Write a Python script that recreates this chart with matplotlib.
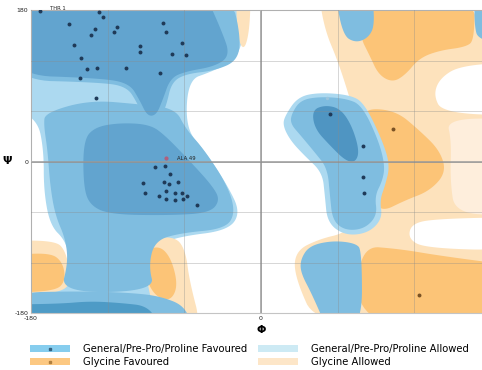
import numpy as np
import matplotlib
matplotlib.use("Agg")
import matplotlib.pyplot as plt
from matplotlib.patches import Polygon, Patch
from matplotlib.lines import Line2D

# ---------------------------------------------------------------- residues
phi_general = [-173, -127, -124, -150, -77, -113, -130, -74, -115, -133, -62,
               -146, -95, -95, -70, -59, -141, -136, -128, -106, -79, -142, -129,
               -83, -75, -71, -92, -76, -72, -74, -91, -67, -62, -65, -58, -74,
               -67, -61, -50, -80,
               54, 80, 80, 81]
psi_general = [179, 178, 172, 163, 164, 160, 157, 154, 154, 150, 141,
               138, 137, 130, 128, 126, 123, 110, 111, 111, 105, 99, 76,
               -7, -5, -15, -25, -24, -27, -35, -37, -37, -37, -24, -41, -45,
               -46, -44, -52, -41,
               57, 18, -19, -37]

phi_glycine = [103, 124]
psi_glycine = [39, -159]

phi_faint = [52]
psi_faint = [75]

phi_outlier = [-74]
psi_outlier = [4]
outlier_names = ["ALA 49"]

top_name = "THR 1"

# --------------------------------------------------------- region outlines
# (phi, psi) in degrees; edge vertices sit outside the frame so clipping
# gives straight borders after smoothing
gen_allowed = [(-200, 200), (-16, 200), (-13, 150), (-20, 120), (-40, 106),
               (-57, 97), (-59, 39), (-44, 13), (-26, -29), (-16, -61),
               (-26, -82), (-63, -89), (-81, -99), (-85, -130), (-75, -160),
               (-54, -200), (-200, -200), (-200, -156), (-153, -151),
               (-149, -120), (-153, -94), (-165, -76), (-170, -35), (-170, 13),
               (-175, 51), (-200, 67)]
gen_mid = [(-169, 58), (-134, 73), (-95, 68), (-67, 63), (-59, 39), (-44, 13),
           (-26, -29), (-20, -61), (-28, -80), (-63, -85), (-83, -94),
           (-88, -124), (-83, -154), (-157, -156), (-151, -120), (-153, -92),
           (-161, -64), (-165, -29), (-167, 13), (-170, 43)]
beta_outer = [(-200, 200), (-24, 200), (-16, 150), (-18, 120), (-36, 108),
              (-59, 104), (-70, 94), (-74, 67), (-79, 50), (-91, 49),
              (-97, 70), (-105, 89), (-126, 94), (-200, 97)]
beta_core = [(-200, 200), (-44, 200), (-31, 156), (-24, 126), (-36, 113),
             (-59, 107), (-71, 99), (-77, 73), (-82, 55), (-89, 54), (-95, 73),
             (-103, 93), (-126, 99), (-200, 103)]
alpha_core = [(-139, 25), (-130, 41), (-110, 46), (-87, 44), (-75, 31),
              (-56, 1), (-38, -29), (-32, -46), (-40, -61), (-71, -64),
              (-118, -63), (-134, -52), (-139, -29)]
bottom_band = [(-200, -156), (-141, -154), (-102, -156), (-79, -160),
               (-59, -172), (-54, -200), (-200, -200)]
bottom_core = [(-200, -170), (-157, -169), (-134, -166), (-110, -168),
               (-87, -172), (-79, -200), (-200, -200)]
lh_allowed = [(19, 55), (29, 77), (46, 82), (70, 79), (81, 69), (95, 25),
              (101, -5), (97, -29), (93, -46), (95, -68), (84, -85), (66, -88),
              (52, -73), (50, -41), (48, -13), (34, 7), (23, 25), (17, 43)]
lh_mid = [(24, 57), (31, 73), (46, 77), (66, 75), (79, 67), (92, 25), (97, -5),
          (95, -23), (89, -41), (91, -64), (81, -80), (66, -82), (56, -70),
          (54, -41), (52, -8), (42, 11), (31, 31), (23, 45)]
lh_core = [(40, 61), (50, 67), (62, 63), (71, 43), (77, 13), (74, -1), (66, 1),
           (54, 19), (42, 39)]
gen_top_right = [(58, 200), (87, 200), (89, 162), (84, 147), (74, 141),
                 (64, 150)]
gen_edge = [(167, 200), (200, 200), (200, 138), (170, 144), (167, 162)]
gen_low_right = [(31, -116), (38, -100), (56, -94), (74, -97), (79, -106),
                 (79, -200), (52, -200), (40, -158), (31, -132)]

gly_allowed_right = [(45, 200), (200, 200), (200, -200), (45, -200),
                     (26, -136), (27, -106), (46, -92), (66, -85), (77, -64),
                     (81, 13), (70, 73), (60, 120), (50, 156)]
gly_pale_right = [(145, 51), (200, 51), (200, -63), (152, -63), (148, -23),
                  (149, 25)]
gap_upper = [(200, 118), (156, 114), (140, 99), (135, 79), (142, 58),
             (200, 54)]
gap_lower = [(200, -66), (140, -68), (118, -73), (115, -92), (129, -103),
             (200, -106)]
gly_fav_top = [(79, 200), (167, 200), (167, 144), (160, 136), (140, 132),
               (124, 123), (113, 103), (103, 94), (92, 103), (85, 126),
               (77, 150)]
gly_fav_mid = [(79, 63), (105, 61), (124, 37), (140, 13), (145, -13),
               (132, -35), (113, -46), (93, -61), (85, -35), (93, 1), (85, 37)]
gly_fav_low = [(76, -100), (109, -104), (140, -112), (200, -124),
               (200, -200), (76, -200)]
gly_allowed_left = [(-200, -94), (-161, -94), (-153, -106), (-149, -136),
                    (-153, -156), (-200, -160)]
gly_fav_left = [(-200, -112), (-165, -108), (-155, -120), (-153, -142),
                (-161, -154), (-200, -156)]
gly_allowed_mid = [(-87, -92), (-67, -89), (-59, -106), (-56, -142),
                   (-46, -200), (-79, -200), (-88, -154), (-91, -118)]
gly_fav_midleft = [(-91, -106), (-79, -100), (-70, -116), (-65, -148),
                   (-71, -166), (-83, -160), (-91, -136)]
gly_allowed_tip = [(-20, 200), (-8, 200), (-9, 156), (-13, 132), (-18, 144)]

# ------------------------------------------------------------------ colours
C_LIGHT = "#acd9f0"
C_MID = "#7fbde0"
C_CORE = "#62a4cf"
C_CORE2 = "#4f95c2"
C_GLY_FAV = "#fcc477"
C_GLY_ALW = "#fde2bc"
C_GLY_PALE = "#feeedc"


def smooth(pts, n=4):
    p = np.asarray(pts, float)
    for _ in range(n):
        q = np.roll(p, -1, axis=0)
        new = np.empty((2 * len(p), 2))
        new[0::2] = 0.75 * p + 0.25 * q
        new[1::2] = 0.25 * p + 0.75 * q
        p = new
    return p


fig = plt.figure(figsize=(4.82, 3.70), dpi=100)
ax = fig.add_axes([31 / 482, 57 / 370, 460 / 482, 303 / 370])
ax.set_xlim(-180, 180)
ax.set_ylim(-180, 180)


def region(pts, color, z):
    ax.add_patch(Polygon(smooth(pts), closed=True, facecolor=color,
                         edgecolor="none", zorder=z))


region(gly_allowed_right, C_GLY_ALW, 1)
region(gly_pale_right, C_GLY_PALE, 1.1)
region(gap_upper, "white", 1.2)
region(gap_lower, "white", 1.2)
region(gen_allowed, C_LIGHT, 1.3)
region(gly_allowed_left, C_GLY_ALW, 1.4)
region(gly_allowed_mid, C_GLY_ALW, 1.4)
region(gly_allowed_tip, C_GLY_ALW, 1.4)
for poly in (gly_fav_top, gly_fav_mid, gly_fav_low, gly_fav_left,
             gly_fav_midleft):
    region(poly, C_GLY_FAV, 1.5)
region(gen_mid, C_MID, 1.6)
region(lh_allowed, C_LIGHT, 1.6)
for poly in (beta_outer, lh_mid, gen_top_right, gen_edge, gen_low_right,
             bottom_band):
    region(poly, C_MID, 1.7)
for poly in (beta_core, alpha_core):
    region(poly, C_CORE, 1.8)
region(lh_core, C_CORE2, 1.8)
region(bottom_core, "#4e9bc6", 1.8)

# grid
ticks = np.arange(-180, 181, 60)
ax.set_xticks(ticks)
ax.set_xticklabels(["-180", "", "", "0", "", "", ""])
ax.set_yticks(ticks)
ax.set_yticklabels(["-180", "", "", "0", "", "", "180"])
ax.tick_params(length=0, labelsize=4.5, pad=2, colors="#222222")
ax.grid(True, color="#8a8a8a", alpha=0.35, lw=0.7, zorder=2)
ax.set_axisbelow(False)
ax.axvline(0, color="#9a9a9a", lw=1.1, zorder=2.1)
ax.axhline(0, color="#9a9a9a", lw=1.1, zorder=2.1)
for s in ax.spines.values():
    s.set_color("#c4c4c4")
    s.set_linewidth(0.8)

# residues
ax.scatter(phi_general, psi_general, s=8, color="#1f3a58", lw=0, zorder=5)
ax.scatter(phi_glycine, psi_glycine, s=8, color="#7a5224", lw=0, zorder=5)
ax.scatter(phi_faint, psi_faint, s=6, color="#9cc4dc", lw=0, zorder=5)
ax.scatter(phi_outlier, psi_outlier, s=9, color="#b0607e", lw=0, zorder=5)
for x, y, t in zip(phi_outlier, psi_outlier, outlier_names):
    ax.text(x + 8, y, t, fontsize=3.8, color="#222222", va="center",
            zorder=6)
ax.text(-165, 182, top_name, fontsize=3.8, color="#222222", va="center",
        zorder=6, clip_on=False)

ax.set_xlabel("Φ", fontsize=8, fontweight="bold", labelpad=3)
ax.set_ylabel("Ψ", fontsize=8, fontweight="bold", rotation=0, labelpad=5,
              va="center")

# legend
dot = dict(marker="s", color="#35617f", ls="none", ms=2)
handles = [
    (Patch(facecolor="#86cdee"), Line2D([0], [0], **dot)),
    (Patch(facecolor="#fcc882"), Line2D([0], [0], marker="s", color="#b08040",
                                        ls="none", ms=2)),
    Patch(facecolor="#cdeaf4"),
    Patch(facecolor="#fde6c8"),
]
labels = ["General/Pre-Pro/Proline Favoured", "Glycine Favoured",
          "General/Pre-Pro/Proline Allowed", "Glycine Allowed"]
fig.legend(handles, labels, ncol=2, loc="upper left",
           bbox_to_anchor=(30 / 482, 1 - 344 / 370), frameon=False,
           fontsize=7.2, handlelength=4.0, handleheight=0.65,
           handletextpad=1.3, columnspacing=1.1, labelspacing=0.3,
           borderpad=0, borderaxespad=0)

fig.savefig("out.png", dpi=100)
